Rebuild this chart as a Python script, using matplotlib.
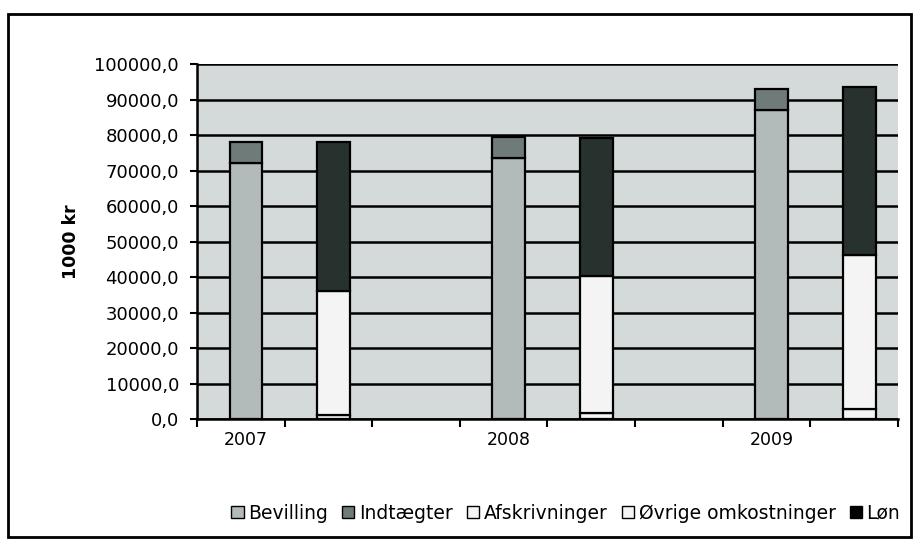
import matplotlib
matplotlib.use("Agg")
import matplotlib.pyplot as plt
from matplotlib.patches import Rectangle, Patch
import numpy as np

years = ['2007', '2008', '2009']
bevilling = [72300, 73600, 87300]
indtaegter = [5700, 5900, 5700]
afskrivninger = [1200, 1600, 2800]
ovrige = [34800, 38600, 43500]
lon = [42000, 39100, 47300]
series_names = ['Bevilling', 'Indtægter', 'Afskrivninger', 'Øvrige omkostninger', 'Løn']
yticks = np.arange(0, 100001, 10000)

plt.rcParams['font.family'] = ['DejaVu Sans']

fig = plt.figure(figsize=(9.17, 5.42), dpi=100)
ax = fig.add_axes([0.2148, 0.227, 0.979 - 0.2148, 0.881 - 0.227])

c_bev = '#b3bbba'
c_ind = '#6f7b79'
c_white = '#f4f4f4'
c_lon = '#27322f'
c_bg = '#d4dada'

ax.set_facecolor(c_bg)
left_pos = np.array([0, 3, 6]) + 0.06
right_pos = np.array([1, 4, 7]) + 0.06
w = 0.375
kw = dict(width=w, edgecolor='black', linewidth=1.6, zorder=3)

ax.bar(left_pos, bevilling, color=c_bev, **kw)
ax.bar(left_pos, indtaegter, bottom=bevilling, color=c_ind, **kw)
b1 = np.array(afskrivninger)
b2 = b1 + np.array(ovrige)
ax.bar(right_pos, afskrivninger, color=c_white, **kw)
ax.bar(right_pos, ovrige, bottom=b1, color=c_white, **kw)
ax.bar(right_pos, lon, bottom=b2, color=c_lon, **kw)

ax.set_xlim(-0.5, 7.5)
ax.set_ylim(0, 100000)
ax.set_yticks(yticks)
ax.set_yticklabels([f"{v:.1f}".replace('.', ',') for v in yticks], fontsize=13)
ax.yaxis.grid(True, color='black', linewidth=1.8, zorder=1)
ax.set_axisbelow(True)

ax.set_xticks(left_pos)
ax.set_xticklabels(years, fontsize=12.5)
ax.tick_params(axis='x', length=0, pad=9)
ax.set_xticks(np.arange(-0.5, 7.6, 1), minor=True)
ax.tick_params(axis='x', which='minor', length=6, width=1.5, direction='out')
ax.tick_params(axis='y', length=5, width=1.5, direction='out', pad=8)

for s in ['top', 'right']:
    ax.spines[s].set_visible(False)
ax.spines['left'].set_linewidth(1.8)
ax.spines['bottom'].set_linewidth(1.8)

ax.set_ylabel('1000 kr', fontsize=12.5, fontweight='bold', labelpad=10)

handles = [Patch(facecolor=c_bev, edgecolor='black'),
           Patch(facecolor=c_ind, edgecolor='black'),
           Patch(facecolor=c_white, edgecolor='black'),
           Patch(facecolor=c_white, edgecolor='black'),
           Patch(facecolor='black', edgecolor='black')]
fig.legend(handles, series_names, loc='center', bbox_to_anchor=(0.617, 0.053), ncol=5,
           frameon=False, fontsize=13.5, handlelength=0.65, handleheight=0.65,
           handletextpad=0.25, columnspacing=0.75)

fig.patches.append(Rectangle((0.0087, 0.0092), 0.9935 - 0.0087, 0.974 - 0.0092,
                             transform=fig.transFigure, fill=False,
                             edgecolor='black', linewidth=2))

fig.savefig('out.png', dpi=100)
